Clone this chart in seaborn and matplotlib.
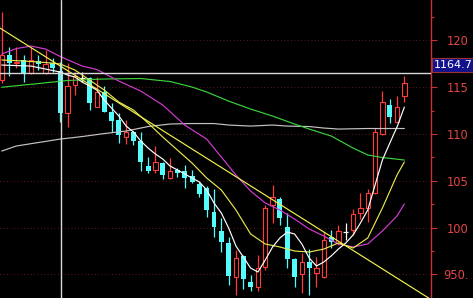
import matplotlib
matplotlib.use("Agg")
import matplotlib.pyplot as plt
import matplotlib.transforms as mtransforms
from matplotlib.ticker import MultipleLocator, FixedLocator
import numpy as np
import pandas as pd
import seaborn as sns

# ---------------- data ----------------
opens = [1157.6, 1184.3, 1175.4, 1179.0, 1164.7, 1178.2, 1164.7, 1176.1, 1167.5, 1122.0,
         1152.2, 1159.7, 1159.4, 1129.1, 1145.1, 1123.7, 1114.8, 1096.4, 1102.3, 1092.7,
         1065.7, 1061.4, 1068.6, 1052.6, 1061.4, 1060.4, 1055.0, 1046.5, 1041.9, 1016.9,
         996.6, 983.8, 947.4, 969.5, 942.1, 936.7, 957.5, 1024.0, 1030.1, 1000.2,
         966.0, 950.3, 963.5, 951.7, 947.4, 990.2, 983.8, 995.5, 997.3, 1015.8,
         1020.5, 1036.5, 1099.9, 1130.9, 1113.0, 1140.5]
highs = [1230.6, 1193.2, 1193.2, 1184.3, 1193.2, 1184.3, 1189.6, 1180.8, 1177.1, 1175.4,
         1166.5, 1166.1, 1161.1, 1161.1, 1151.2, 1133.0, 1122.3, 1114.8, 1103.0, 1102.3,
         1075.6, 1087.1, 1070.0, 1073.9, 1063.6, 1066.8, 1061.4, 1048.9, 1044.3, 1041.1,
         1009.8, 989.8, 975.9, 970.5, 949.2, 970.6, 1024.0, 1045.4, 1032.6, 1015.2,
         967.0, 972.4, 977.0, 968.8, 995.5, 997.3, 1002.7, 1004.5, 1019.4, 1036.5,
         1040.8, 1106.0, 1146.2, 1137.0, 1140.5, 1161.9]
lows = [1154.4, 1161.9, 1170.1, 1155.8, 1164.0, 1168.3, 1164.0, 1166.5, 1113.0, 1107.7,
        1141.6, 1155.4, 1125.5, 1128.4, 1123.0, 1102.3, 1090.3, 1089.2, 1088.1, 1060.7,
        1057.9, 1058.5, 1051.5, 1051.5, 1053.6, 1041.9, 1047.2, 1032.9, 1011.7, 990.2,
        974.1, 938.6, 927.9, 934.0, 932.5, 932.5, 954.6, 1004.5, 1002.7, 956.4,
        936.7, 929.7, 927.9, 936.7, 945.7, 977.8, 981.3, 986.6, 992.0, 1008.8,
        1006.2, 1036.0, 1099.0, 1112.0, 1112.5, 1134.4]
closes = [1184.3, 1175.4, 1177.1, 1165.4, 1179.0, 1174.7, 1174.7, 1170.1, 1122.0, 1151.2,
          1161.9, 1159.7, 1133.3, 1145.1, 1123.7, 1114.1, 1098.8, 1102.3, 1092.7, 1070.3,
          1060.7, 1070.3, 1056.1, 1060.4, 1057.9, 1052.6, 1048.9, 1035.8, 1018.2, 1000.9,
          984.8, 948.2, 967.1, 944.7, 936.7, 956.4, 1020.5, 1032.3, 1009.8, 966.0,
          947.4, 963.1, 956.4, 956.4, 986.6, 984.8, 996.6, 995.5, 1014.4, 1020.5,
          1037.2, 1102.3, 1134.4, 1118.4, 1129.1, 1154.7]

ma5_idx = [0, 4, 8, 9, 10, 11, 12, 13, 14, 15, 16, 17, 18, 19, 20, 21, 22, 23, 24, 25,
           26, 27, 28, 29, 30, 31, 32, 33, 34, 35, 36, 37, 38, 39, 40, 41, 42, 43, 44, 45,
           46, 47, 48, 49, 50, 51, 52, 53, 54, 55]
ma5_val = [1173.6, 1172.5, 1166.1, 1162.9, 1160.8, 1155.4, 1151.2, 1146.9, 1136.2, 1127.7,
           1119.2, 1108.4, 1102.0, 1092.4, 1084.9, 1078.5, 1073.2, 1065.7, 1061.5, 1057.2,
           1052.9, 1048.7, 1040.1, 1026.2, 1015.5, 999.5, 980.2, 968.5, 956.7, 952.5,
           965.3, 979.2, 988.8, 995.2, 993.1, 982.4, 967.4, 958.9, 963.2, 969.6,
           977.1, 983.5, 992.0, 1004.8, 1018.7, 1045.4, 1072.1, 1090.0, 1107.4, 1128.7]

ma10_idx = [0, 3, 6, 8, 10, 12, 14, 16, 18, 20, 22, 24, 26, 28, 30, 32, 34, 36, 38, 40,
            42, 44, 46, 48, 50, 52, 54, 55]
ma10_val = [1179.0, 1177.9, 1176.3, 1174.7, 1168.3, 1157.6, 1146.9, 1134.1, 1125.5, 1111.6,
            1096.7, 1082.8, 1068.9, 1052.9, 1040.1, 1018.7, 993.1, 982.4, 979.2, 974.9,
            973.8, 977.0, 983.5, 978.1, 988.8, 1020.8, 1056.1, 1070.0]

ma20_idx = [0, 2, 4, 6, 8, 11, 13, 16, 19, 22, 25, 28, 30, 32, 34, 36, 38, 40, 42, 44,
            46, 48, 50, 52, 54, 55]
ma20_val = [1185.4, 1191.2, 1193.9, 1190.7, 1182.7, 1172.5, 1168.8, 1156.5, 1145.8, 1130.9,
            1109.5, 1094.5, 1075.3, 1056.1, 1039.0, 1026.2, 1018.7, 1009.1, 998.4, 990.9,
            982.4, 979.2, 982.4, 996.3, 1012.4, 1025.2]

ma60_idx = [0, 5, 9, 14, 19, 23, 26, 28, 31, 34, 37, 40, 42, 45, 48, 50, 52, 55]
ma60_val = [1149.9, 1153.8, 1157.1, 1158.7, 1159.2, 1156.0, 1150.1, 1144.8, 1135.1, 1126.6,
            1119.1, 1110.6, 1105.2, 1097.8, 1084.9, 1077.5, 1074.8, 1072.1]

ma120_idx = [0, 2, 5, 8, 11, 14, 17, 20, 23, 26, 29, 31, 34, 37, 39, 42, 44, 46, 50, 55]
ma120_val = [1081.7, 1087.1, 1090.8, 1094.5, 1097.2, 1100.4, 1103.1, 1107.9, 1110.6, 1111.1,
             1111.1, 1109.5, 1108.4, 1109.5, 1108.4, 1107.9, 1106.3, 1105.2, 1105.8, 1105.8]

trend_idx = [-0.23, 58.6]
trend_val = [1213.1, 923.3]

price_level = 1164.7
price_label = "1164.7"
cursor_idx = 8.15

ytick_vals = [1200, 1150, 1100, 1050, 1000, 950]
ytick_labels = ["120", "115", "110", "105", "100", "950."]

# ---------------- style ----------------
sns.set_theme(style="dark", rc={"axes.facecolor": "black", "figure.facecolor": "black",
                                "axes.grid": False})
plt.rcParams['font.family'] = ['DejaVu Sans']

UP = '#ff3c3c'
DOWN = '#54fcfc'
AXRED = '#c83232'

fig = plt.figure(figsize=(4.73, 2.98), dpi=100)
ax = fig.add_axes([0, 0, 430.7 / 473, 1])
ax.set_facecolor('black')

df = pd.DataFrame({"o": opens, "h": highs, "l": lows, "c": closes})
df["i"] = np.arange(len(df))
up = df[df.c > df.o]
dn = df[df.c < df.o]
dj = df[df.c == df.o]

W = 0.6
# wicks
ax.vlines(up.i, up.l, up.h, color=UP, lw=0.9, zorder=2)
ax.vlines(dn.i, dn.l, dn.h, color=DOWN, lw=0.9, zorder=2)
ax.vlines(dj.i, dj.l, dj.h, color='white', lw=0.9, zorder=2)
# bodies
ax.bar(up.i, up.c - up.o, bottom=up.o, width=W, facecolor='black', edgecolor=UP,
       linewidth=0.8, zorder=3)
ax.bar(dn.i, dn.o - dn.c, bottom=dn.c, width=W + 0.08, facecolor=DOWN, edgecolor=DOWN,
       linewidth=0.0, zorder=3)
ax.hlines(dj.o, dj.i - W / 2 - 0.04, dj.i + W / 2 + 0.04, color='white', lw=0.9, zorder=3)

# moving averages & trendline
lw = 0.85
sns.lineplot(x=ma120_idx, y=ma120_val, ax=ax, color='#c4c4c4', lw=lw, zorder=4)
sns.lineplot(x=ma60_idx, y=ma60_val, ax=ax, color='#3cd23c', lw=lw, zorder=4)
sns.lineplot(x=ma20_idx, y=ma20_val, ax=ax, color='#d23cd2', lw=lw, zorder=4)
sns.lineplot(x=ma10_idx, y=ma10_val, ax=ax, color='#e6e650', lw=lw, zorder=4)
sns.lineplot(x=ma5_idx, y=ma5_val, ax=ax, color='white', lw=lw, zorder=5)
sns.lineplot(x=trend_idx, y=trend_val, ax=ax, color='#f0f050', lw=lw, zorder=5)

ax.axhline(price_level, color='#d8d8d8', lw=1.0, zorder=6)
ax.axvline(cursor_idx, color='#d8d8d8', lw=1.0, zorder=6)

# axes / ticks
ax.set_xlim(-0.232, 58.6)
ax.set_ylim(924.7, 1243.1)
ax.set_xticks([])
for s in ['left', 'top', 'bottom']:
    ax.spines[s].set_visible(False)
ax.spines['right'].set_visible(True)
ax.spines['right'].set_color(AXRED)
ax.spines['right'].set_linewidth(1.0)

ax.yaxis.tick_right()
ax.yaxis.set_major_locator(FixedLocator(ytick_vals))
ax.set_yticklabels(ytick_labels, family=['Liberation Sans Narrow', 'DejaVu Sans'],
                   fontsize=8.3, color='#e04646')
ax.yaxis.set_minor_locator(MultipleLocator(25))
ax.tick_params(axis='y', which='major', direction='out', length=4.3, width=0.8,
               color=AXRED, pad=23.2, right=True, left=False)
ax.tick_params(axis='y', which='minor', direction='out', length=2.2, width=0.8,
               color=AXRED, right=True, left=False)
for t in ax.get_yticklabels():
    t.set_horizontalalignment('right')

ax.grid(axis='y', which='major', color='#7a2020', linestyle=(0, (0.72, 2.66)),
        linewidth=0.72, zorder=1)
ax.set_axisbelow(True)

blend = mtransforms.blended_transform_factory(ax.transAxes, ax.transData)
ax.annotate(price_label, xy=(1.0, price_level), xycoords=blend, xytext=(2.2, 6.0),
            textcoords='offset points', ha='left', va='center', color='white',
            fontsize=8, family=['DejaVu Sans'], annotation_clip=False, zorder=10,
            bbox=dict(boxstyle='square,pad=0.2', fc='#12128c', ec='#a03232', lw=0.8))

fig.savefig('out.png', dpi=100, facecolor='black')
